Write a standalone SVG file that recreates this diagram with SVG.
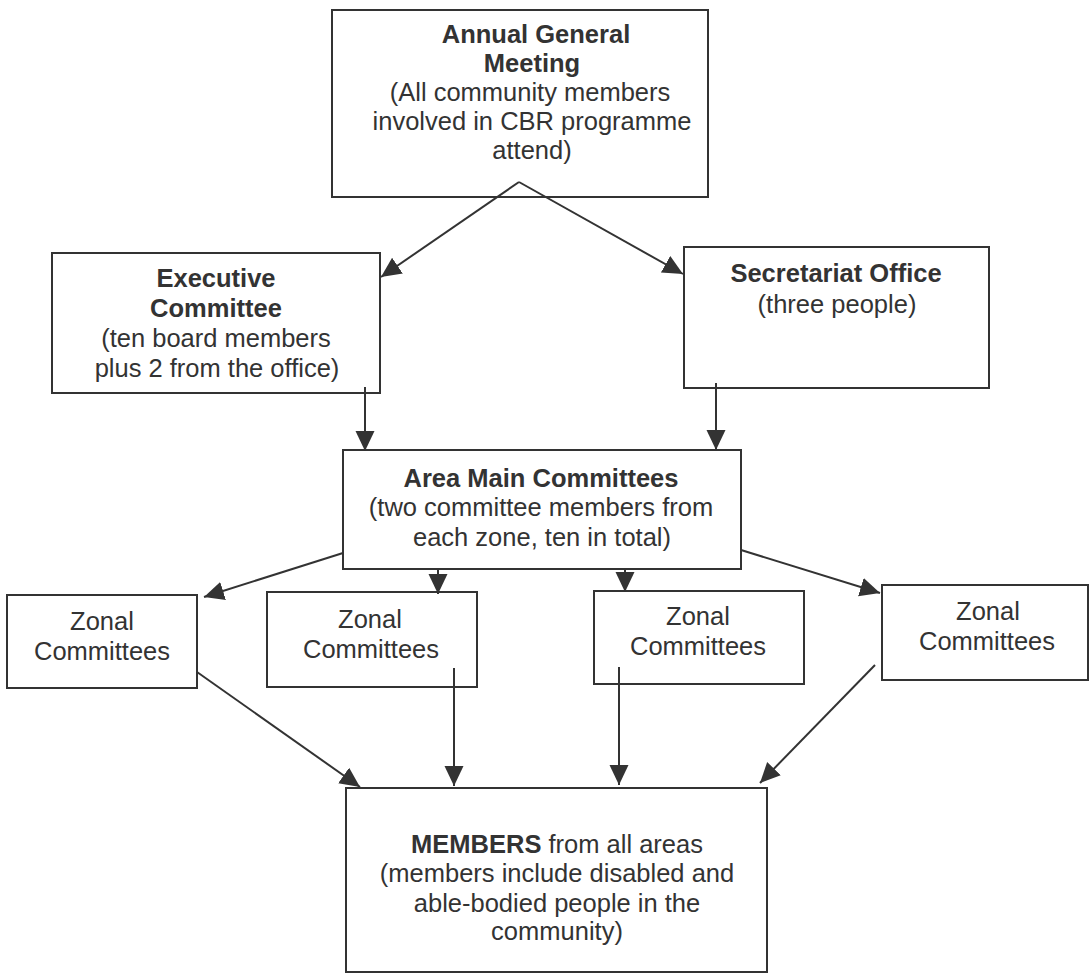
<svg xmlns="http://www.w3.org/2000/svg" width="1090" height="975" viewBox="0 0 1090 975">
<defs>
<style>
.box{fill:#fff;stroke:#333;stroke-width:2}
.t{font-family:"Liberation Sans",Arial,sans-serif;font-size:25.5px;fill:#333;text-anchor:middle}
.b{font-weight:bold}
.c{stroke:#333;stroke-width:2;fill:none;marker-end:url(#ah)}
</style>
<marker id="ah" markerUnits="userSpaceOnUse" markerWidth="22" markerHeight="22" refX="20" refY="9.5" orient="auto" viewBox="0 0 22 22">
<path d="M0,0 L20,9.5 L0,19 z" fill="#333"/>
</marker>
</defs>
<rect width="1090" height="975" fill="#fff"/>
<g id="agm">
<rect class="box" x="332" y="10" width="376" height="187"/>
<text class="t b" x="536" y="43">Annual General</text>
<text class="t b" x="532" y="72">Meeting</text>
<text class="t" x="530" y="101">(All community members</text>
<text class="t" x="532" y="130">involved in CBR programme</text>
<text class="t" x="532" y="159">attend)</text>
</g>
<g id="executive">
<rect class="box" x="52" y="253" width="328" height="140"/>
<text class="t b" x="216" y="287">Executive</text>
<text class="t b" x="216" y="317">Committee</text>
<text class="t" x="216" y="347">(ten board members</text>
<text class="t" x="217" y="377">plus 2 from the office)</text>
</g>
<g id="secretariat">
<rect class="box" x="684" y="247" width="305" height="141"/>
<text class="t b" x="836" y="282">Secretariat Office</text>
<text class="t" x="837" y="313">(three people)</text>
</g>
<g id="area">
<rect class="box" x="343" y="450" width="398" height="119"/>
<text class="t b" x="541" y="487">Area Main Committees</text>
<text class="t" x="541" y="516">(two committee members from</text>
<text class="t" x="542" y="546">each zone, ten in total)</text>
</g>
<g id="zonal1">
<rect class="box" x="7" y="595" width="190" height="93"/>
<text class="t" x="102" y="630">Zonal</text>
<text class="t" x="102" y="660">Committees</text>
</g>
<g id="zonal2">
<rect class="box" x="267" y="592" width="210" height="95"/>
<text class="t" x="370" y="628">Zonal</text>
<text class="t" x="371" y="658">Committees</text>
</g>
<g id="zonal3">
<rect class="box" x="594" y="591" width="210" height="93"/>
<text class="t" x="698" y="625">Zonal</text>
<text class="t" x="698" y="655">Committees</text>
</g>
<g id="zonal4">
<rect class="box" x="882" y="585" width="206" height="95"/>
<text class="t" x="988" y="620">Zonal</text>
<text class="t" x="987" y="650">Committees</text>
</g>
<g id="members">
<rect class="box" x="346" y="788" width="421" height="184"/>
<text class="t" x="557" y="853"><tspan class="b">MEMBERS</tspan> from all areas</text>
<text class="t" x="557" y="882">(members include disabled and</text>
<text class="t" x="557" y="912">able-bodied people in the</text>
<text class="t" x="557" y="940">community)</text>
</g>
<g id="connectors">
<path class="c" d="M519,182 L381,277"/>
<path class="c" d="M519,182 L683,274"/>
<path class="c" d="M365,387 L365,451"/>
<path class="c" d="M716,383 L716,450"/>
<path class="c" d="M343,553 L204,597"/>
<path class="c" d="M438,569 L438,594"/>
<path class="c" d="M625,569 L625,592"/>
<path class="c" d="M741,550 L880,593"/>
<path class="c" d="M197,672 L360,787"/>
<path class="c" d="M454,668 L454,786"/>
<path class="c" d="M619,667 L619,785"/>
<path class="c" d="M875,665 L760,783"/>
</g>
</svg>
